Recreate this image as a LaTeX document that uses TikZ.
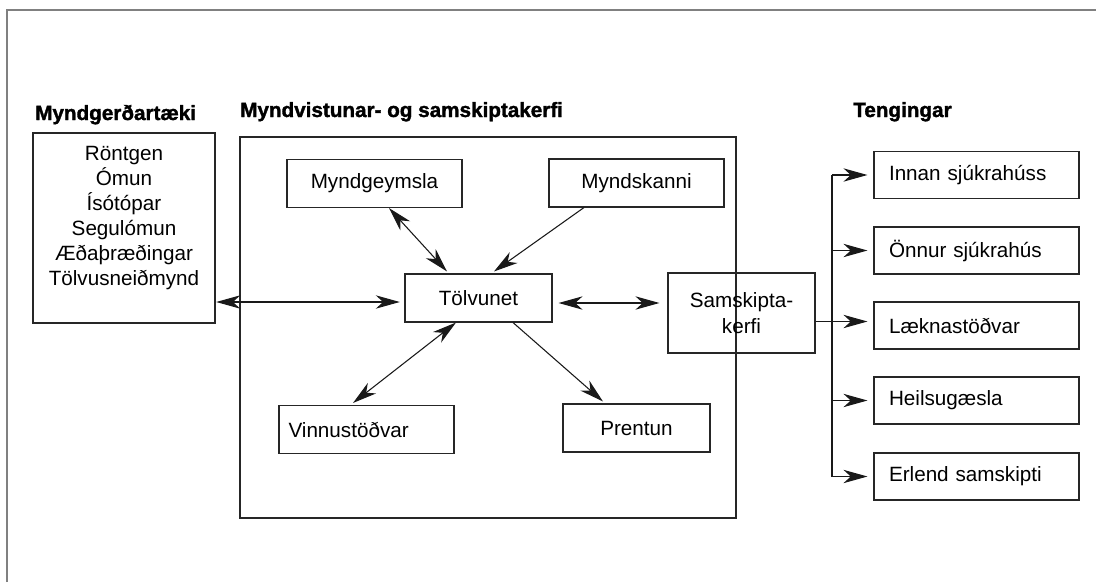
\documentclass[tikz,border=0pt]{standalone}
\usepackage{fontspec}
\setmainfont{Liberation Sans}
\newfontfamily\heavyfont{Liberation Sans}[BoldFeatures={FakeBold=1.6}]
\usetikzlibrary{arrows.meta,calc}

\tikzset{
  box/.style={draw=black!85, line width=0.8pt, inner sep=0pt, font=\fontsize{15.5}{18.75}\selectfont},
  breid/.style={box, minimum width=131.25pt, minimum height=36pt},
  mjo/.style={box, minimum width=110.25pt, minimum height=36pt},
  tenging/.style={box, minimum width=153.75pt, minimum height=35.25pt, text width=131.25pt, align=left, inner xsep=11.25pt},
  fyrirsogn/.style={anchor=base west, inner sep=0pt, font=\fontsize{15.5}{18}\selectfont\heavyfont\bfseries},
  tengill/.style={line width=0.8pt, draw=black!90},
  ein/.style={tengill, -{Stealth[length=18pt,width=10pt,inset=5.5pt]}},
  tvi/.style={tengill, {Stealth[length=18pt,width=10pt,inset=5.5pt]}-{Stealth[length=18pt,width=10pt,inset=5.5pt]}},
}

\begin{document}
\begin{tikzpicture}[x=0.75pt, y=-0.75pt]
                \useasboundingbox (0,0) rectangle (1096,582);
                \draw[line width=0.8pt, black!50] (7,582) -- (7,10) -- (1096,10);

                % Headings
                \node at (35,120) (h1) [fyrirsogn] {Myndgerðartæki};
                \node at (240,117) (h2) [fyrirsogn] {Myndvistunar- og samskiptakerfi};
                \node at (853,117) (h3) [fyrirsogn] {Tengingar};

                % Nodes
                \node at (124,228) (myndgerd) [box, minimum width=136.5pt, minimum height=142.5pt] {};
                \node at (124,218) (myndlist) [align=center, font=\fontsize{15.5}{18.75}\selectfont]
                  {Röntgen\\Ómun\\Ísótópar\\Segulómun\\Æðaþræðingar\\Tölvusneiðmynd};
                \node at (488,327.5) (kerfi) [box, minimum width=372pt, minimum height=285.75pt] {};
                \node at (374.5,183.5) (geymsla) [breid] {Myndgeymsla};
                \node at (636.5,183) (skanni) [breid] {Myndskanni};
                \node at (478.5,298) (tolvunet) [mjo] {Tölvunet};
                \node at (366.5,429.5) (vinnu) [breid, align=left, text width=117pt, inner xsep=7pt] {Vinnustöðvar};
                \node at (636.5,428) (prentun) [mjo] {Prentun};
                \node at (741.5,313) (samskipti) [mjo, minimum height=60pt, align=center, font=\fontsize{15.5}{19.5}\selectfont] {Samskipta-\\kerfi};
                \node at (976.5,175) (innan) [tenging] {Innan sjúkrahúss};
                \node at (976.5,250.5) (onnur) [tenging] {Önnur sjúkrahús};
                \node at (976.5,325.5) (laekna) [tenging] {Læknastöðvar};
                \node at (976.5,400.5) (heilsu) [tenging] {Heilsugæsla};
                \node at (976.5,476.5) (erlend) [tenging] {Erlend samskipti};
                \coordinate (greinar) at (832,175);

                % Arrows
                \draw[tvi, shorten <=0.5pt, shorten >=3.5pt] ($(myndgerd.east |- tolvunet.west)+(0,4)$) -- ($(tolvunet.west)+(0,4)$);
                \draw[tvi, shorten <=4.5pt, shorten >=6pt] ($(tolvunet.east)+(0,5)$) -- ($(samskipti.west |- tolvunet.east)+(0,5)$);
                \draw[tvi] ($(geymsla.south)+(14.5,0)$) -- ($(tolvunet.north)+(-31.5,-2)$);
                \draw[ein] ($(skanni.south)+(-52.5,0)$) -- ($(tolvunet.north)+(15.5,-2)$);
                \draw[tvi] ($(tolvunet.south)+(-22.5,0)$) -- ($(vinnu.north)+(-13.5,-2)$);
                \draw[ein] ($(tolvunet.south)+(34.5,0)$) -- ($(prentun.north)+(-33.5,-2)$);

                % Tengingar
                \draw[tengill] (greinar |- innan) -- (greinar |- erlend);
                \draw[ein, shorten >=4.5pt] ($(samskipti.east |- laekna.west)+(0,-4)$) -- ($(laekna.west)+(0,-4)$);
                \foreach \n in {innan,onnur,heilsu,erlend}
                  \draw[ein, shorten >=4.5pt] (greinar |- \n) -- (\n.west);

            \end{tikzpicture}
\end{document}
